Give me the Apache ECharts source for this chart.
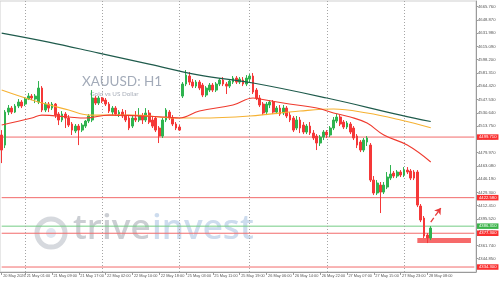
<!DOCTYPE html>
<html>
<head>
<meta charset="utf-8">
<script src="https://cdn.jsdelivr.net/npm/echarts@6/dist/echarts.min.js"></script>
<style>
  html, body { margin: 0; padding: 0; background: #fff; }
  #chart { width: 500px; height: 281px; }
</style>
</head>
<body>
<div id="chart"></div>
<script>
// H1 bars, [open, close, low, high]
const bars = [
  [4502.3,4483.2,4466.6,4508.6],[4489.5,4531.5,4485.7,4534.1],[4531.5,4536.6,4527.7,4540.5],[4536.6,4531.5,4529.0,4539.2],
  [4531.5,4539.2,4530.3,4541.7],[4539.2,4544.3,4536.6,4548.1],[4544.3,4539.2,4536.6,4546.8],[4541.7,4548.1,4539.2,4550.6],
  [4548.1,4551.9,4546.8,4555.7],[4551.9,4549.4,4546.8,4554.5],[4548.1,4551.9,4543.0,4554.5],[4544.3,4562.1,4541.7,4571.0],
  [4562.1,4534.1,4531.5,4564.6],[4534.1,4541.7,4531.5,4544.3],[4541.7,4536.6,4531.5,4544.3],[4536.6,4541.7,4534.1,4544.3],
  [4541.7,4527.7,4523.9,4543.0],[4529.0,4521.4,4515.0,4531.5],[4521.4,4529.0,4518.8,4532.8],[4529.0,4523.9,4511.2,4531.5],
  [4523.9,4515.0,4512.5,4527.7],[4516.3,4508.6,4502.3,4518.8],[4507.4,4513.7,4504.8,4516.3],[4513.7,4508.6,4489.5,4516.3],
  [4508.6,4515.0,4506.1,4517.5],[4513.7,4520.1,4511.2,4521.4],[4520.1,4526.5,4517.5,4529.0],[4521.4,4549.4,4518.8,4559.5],
  [4549.4,4543.0,4540.5,4551.9],[4543.0,4549.4,4540.5,4551.9],[4549.4,4545.5,4543.0,4550.6],[4546.8,4541.7,4539.2,4549.4],
  [4541.7,4532.8,4530.3,4544.3],[4531.5,4536.6,4527.7,4539.2],[4536.6,4529.0,4526.5,4539.2],[4529.0,4531.5,4525.2,4534.1],
  [4531.5,4526.5,4523.9,4535.4],[4526.5,4521.4,4518.8,4534.1],[4523.9,4511.2,4508.6,4526.5],[4513.7,4523.9,4511.2,4526.5],
  [4523.9,4521.4,4518.8,4532.8],[4521.4,4526.5,4518.8,4536.6],[4526.5,4521.4,4516.3,4530.3],[4521.4,4530.3,4518.8,4536.6],
  [4530.3,4518.8,4516.3,4534.1],[4521.4,4513.7,4511.2,4525.2],[4523.9,4508.6,4506.1,4526.5],[4511.2,4501.0,4492.1,4513.7],
  [4501.0,4521.4,4498.5,4523.9],[4521.4,4534.1,4518.8,4536.6],[4531.5,4523.9,4521.4,4534.1],[4523.9,4516.3,4513.7,4527.7],
  [4516.3,4511.2,4508.6,4518.8],[4512.5,4508.6,4507.4,4515.0],[4551.9,4567.2,4549.4,4569.7],[4567.2,4578.6,4564.6,4585.0],
  [4577.4,4569.7,4565.9,4582.5],[4569.7,4564.6,4562.1,4573.5],[4564.6,4569.7,4562.1,4572.3],[4569.7,4562.1,4559.5,4572.3],
  [4565.9,4553.2,4550.6,4568.5],[4553.2,4562.1,4550.6,4564.6],[4559.5,4565.9,4557.0,4568.5],[4565.9,4559.5,4557.0,4568.5],
  [4559.5,4567.2,4557.0,4569.7],[4567.2,4572.3,4564.6,4574.8],[4572.3,4567.2,4564.6,4576.1],[4567.2,4564.6,4554.5,4569.7],
  [4564.6,4571.0,4562.1,4573.5],[4569.7,4574.8,4567.2,4577.4],[4574.8,4569.7,4567.2,4577.4],[4569.7,4573.5,4567.2,4576.1],
  [4572.3,4567.2,4564.6,4576.1],[4567.2,4574.8,4564.6,4578.6],[4573.5,4577.4,4569.7,4579.9],[4577.4,4557.0,4554.5,4581.2],
  [4559.5,4549.4,4546.8,4562.1],[4549.4,4540.5,4537.9,4553.2],[4541.7,4530.3,4527.7,4544.3],[4531.5,4541.7,4527.7,4544.3],
  [4540.5,4544.3,4536.6,4546.8],[4544.3,4531.5,4529.0,4546.8],[4531.5,4536.6,4529.0,4539.2],[4536.6,4529.0,4526.5,4540.5],
  [4530.3,4536.6,4527.7,4540.5],[4536.6,4526.5,4523.9,4539.2],[4527.7,4521.4,4518.8,4531.5],[4523.9,4508.6,4506.1,4526.5],
  [4511.2,4521.4,4508.6,4526.5],[4521.4,4511.2,4504.8,4525.2],[4515.0,4506.1,4503.5,4518.8],[4506.1,4513.7,4503.5,4516.3],
  [4513.7,4504.8,4502.3,4518.8],[4504.8,4498.5,4495.9,4508.6],[4501.0,4492.1,4483.2,4503.5],[4492.1,4499.7,4488.3,4502.3],
  [4499.7,4506.1,4495.9,4508.6],[4506.1,4502.3,4498.5,4508.6],[4502.3,4511.2,4499.7,4513.7],[4511.2,4521.4,4508.6,4525.2],
  [4520.1,4525.2,4517.5,4529.0],[4525.2,4516.3,4513.7,4527.7],[4518.8,4512.5,4509.9,4521.4],[4512.5,4517.5,4509.9,4520.1],
  [4516.3,4506.1,4503.5,4518.8],[4511.2,4498.5,4495.9,4513.7],[4501.0,4489.5,4485.7,4503.5],[4493.4,4483.2,4480.6,4495.9],
  [4483.2,4495.9,4480.6,4498.5],[4493.4,4498.5,4488.3,4501.0],[4489.5,4445.0,4442.5,4492.1],[4445.0,4428.5,4425.9,4450.1],
  [4428.5,4441.2,4425.9,4445.0],[4438.6,4429.7,4403.0,4442.5],[4429.7,4438.6,4427.2,4442.5],[4436.1,4448.8,4433.5,4455.2],
  [4447.5,4452.6,4445.0,4464.1],[4453.9,4450.1,4447.5,4456.5],[4450.1,4455.2,4447.5,4457.7],[4455.2,4451.4,4448.8,4457.7],
  [4451.4,4457.7,4448.8,4461.5],[4457.7,4455.2,4452.6,4461.5],[4456.5,4447.5,4445.0,4459.0],[4455.2,4447.5,4445.0,4457.7],
  [4455.2,4413.2,4410.6,4457.7],[4411.9,4394.1,4391.5,4414.5],[4396.6,4373.7,4371.2,4399.2],[4375.0,4371.2,4364.8,4377.5],
  [4371.2,4383.9,4368.6,4386.4]
];

// moving averages, [bar index, value]
const maSlow = [[0,4632.1],[14,4620.6],[29,4606.6],[44,4592.6],[59,4578.6],[75,4568.5],[97,4549.4],[119,4527.7],[128,4519.5]];
const maMid = [[0,4559.5],[9,4546.8],[20,4534.1],[26,4527.7],[39,4527.7],[52,4523.9],[59,4523.9],[74,4526.5],[89,4532.8],[99,4535.4],[109,4530.3],[119,4521.4],[128,4511.5]];
const maFast = [[0,4515.0],[9,4523.9],[12,4527.7],[20,4525.2],[25,4523.9],[32,4527.7],[49,4525.2],[53,4523.9],[59,4532.8],[69,4540.5],[75,4549.4],[77,4548.1],[84,4543.0],[94,4536.6],[99,4530.3],[104,4525.2],[109,4517.5],[114,4502.3],[121,4489.5],[128,4468.0]];

// horizontal levels
const resistLevels = [4499.712, 4422.576, 4377.295, 4334.299];
const bidLevel = 4386.310;

// support box and arrow
const zoneBox = { from: 124, to: 140, top: 4371.2, bottom: 4364.8 };
const arrowPts = [[128, 4391.5], [131, 4409.4]];

// x axis
const slots = 142;
const tickIdx = [0, 7, 15, 23, 31, 39, 47, 55, 63, 71, 79, 87, 95, 103, 111, 119, 127];
const tickText = ['20 May 2026', '21 May 01:00', '21 May 09:00', '21 May 17:00', '22 May 02:00', '22 May 10:00',
  '22 May 18:00', '25 May 03:00', '25 May 11:00', '25 May 19:00', '26 May 06:00', '26 May 14:00', '26 May 22:00',
  '27 May 07:00', '27 May 15:00', '27 May 23:00', '28 May 08:00'];
const dayStarts = [7, 30, 53, 74, 97, 120];

const cats = []
for (let i = 0; i < slots; i++) cats.push(i)
const tickMap = {}
tickIdx.forEach((k, j) => { tickMap[k] = tickText[j] })
const showTick = (idx) => tickMap[idx] !== undefined

const UP = '#2fb34f'
const DOWN = '#f53838'
const TAG_RED = '#fa2f2f'

const chart = echarts.init(document.getElementById('chart'))

// one flat line series per level
const levelSeries = resistLevels.map((v) => ({
  type: 'line',
  data: [[0, v], [slots - 1, v]],
  showSymbol: false,
  silent: true,
  z: 3,
  lineStyle: { color: '#f26a6a', width: 1 }
}))
levelSeries.push({
  type: 'line',
  data: [[0, bidLevel], [slots - 1, bidLevel]],
  showSymbol: false,
  silent: true,
  z: 3,
  lineStyle: { color: '#74cc85', width: 1 }
})

// price tags on the right scale
const tags = resistLevels.map((v) => ({ v, bg: TAG_RED })).concat([{ v: bidLevel, bg: '#3bb44a' }])

chart.setOption({
  animation: false,
  backgroundColor: '#ffffff',
  grid: { left: 0, right: 24, top: 1, bottom: 9, show: true, borderColor: '#cfcfcf', borderWidth: 1 },
  xAxis: {
    type: 'category',
    data: cats,
    boundaryGap: true,
    axisLine: { lineStyle: { color: '#9a9a9a' } },
    axisTick: { show: true, interval: (i) => showTick(i), alignWithLabel: true, length: 3, lineStyle: { color: '#9a9a9a' } },
    axisLabel: {
      interval: (i) => showTick(i),
      formatter: (v, i) => tickMap[i] || '',
      showMinLabel: true,
      showMaxLabel: true,
      hideOverlap: false,
      align: 'left',
      padding: [0, 0, 0, 1.5],
      margin: 1.5,
      fontSize: 3.9,
      color: '#555',
      fontFamily: 'Liberation Sans'
    },
    splitLine: { show: false }
  },
  yAxis: {
    type: 'value',
    position: 'right',
    scale: true,
    min: 4327.96,
    max: 4672.9,
    interval: 16.89,
    axisLine: { show: true, lineStyle: { color: '#9a9a9a' } },
    axisTick: { show: true, length: 2, lineStyle: { color: '#9a9a9a' } },
    axisLabel: {
      showMinLabel: false,
      showMaxLabel: false,
      formatter: (v) => v.toFixed(3),
      fontSize: 4.2,
      margin: 2,
      color: '#555',
      fontFamily: 'Liberation Sans'
    },
    splitLine: { show: false }
  },
  graphic: [
    { type: 'circle', shape: { cx: 51, cy: 233, r: 14 }, style: { fill: 'none', stroke: '#d6d9de', lineWidth: 5 }, z: 0 },
    { type: 'circle', shape: { cx: 51, cy: 233, r: 5 }, style: { fill: '#dfe7f1' }, z: 0 },
    { type: 'text', left: 73, top: 212, z: 0, style: { text: 'trive', fontSize: 35, fontWeight: 600, fontFamily: 'Open Sans', fill: '#cbced3' } },
    { type: 'text', left: 152, top: 212, z: 0, style: { text: 'invest', fontSize: 35, fontWeight: 600, fontFamily: 'Open Sans', fill: '#cddcee' } },
    { type: 'text', left: 82, top: 75, z: 0, style: { text: 'XAUUSD: H1', fontSize: 13.5, fontFamily: 'Lato', fill: '#a3abb9' } },
    { type: 'text', left: 90, top: 91, z: 0, style: { text: 'Gold vs US Dollar', fontSize: 6.3, fontFamily: 'Lato', fill: '#a9afba' } }
  ],
  series: levelSeries.concat([
    {
      name: 'tags',
      type: 'line',
      data: [],
      z: 8,
      markLine: {
        silent: true,
        symbol: 'none',
        animation: false,
        lineStyle: { color: 'rgba(255,255,255,0)', width: 1 },
        label: {
          show: true,
          position: 'end',
          distance: 1,
          formatter: (p) => Number(p.value).toFixed(3),
          color: '#fff',
          fontSize: 4.2,
          padding: [1, 2, 0.5, 2],
          fontFamily: 'Liberation Sans'
        },
        data: tags.map((t) => ({ yAxis: t.v, label: { backgroundColor: t.bg } }))
      }
    },
    {
      name: 'XAUUSD',
      type: 'candlestick',
      data: bars,
      barWidth: 2.3,
      z: 5,
      itemStyle: { color: UP, color0: DOWN, borderColor: UP, borderColor0: DOWN, borderWidth: 1 },
      markLine: {
        silent: true,
        symbol: 'none',
        animation: false,
        label: { show: false },
        lineStyle: { color: '#a5a5a5', type: [1, 2], width: 1 },
        data: dayStarts.map((k) => ({ xAxis: k }))
      },
      markArea: {
        silent: true,
        itemStyle: { color: '#f66a6a' },
        data: [[{ xAxis: zoneBox.from, yAxis: zoneBox.top }, { xAxis: zoneBox.to, yAxis: zoneBox.bottom }]]
      }
    },
    {
      name: 'MA slow', type: 'line', data: maSlow, smooth: 0.4, showSymbol: false, z: 6,
      lineStyle: { color: '#1f5b4c', width: 1.2 }
    },
    {
      name: 'MA mid', type: 'line', data: maMid, smooth: 0.4, showSymbol: false, z: 6,
      lineStyle: { color: '#f6b233', width: 1.1 }
    },
    {
      name: 'MA fast', type: 'line', data: maFast, smooth: 0.4, showSymbol: false, z: 6,
      lineStyle: { color: '#ef3a2e', width: 1.1 }
    },
    {
      name: 'arrow', type: 'line', data: [], z: 7,
      markLine: {
        silent: true,
        symbol: ['none', 'arrow'],
        symbolSize: 6,
        label: { show: false },
        lineStyle: { color: '#e83b3b', type: 'dashed', width: 1.3 },
        data: [[{ coord: arrowPts[0] }, { coord: arrowPts[1] }]]
      }
    }
  ])
})
</script>
</body>
</html>
